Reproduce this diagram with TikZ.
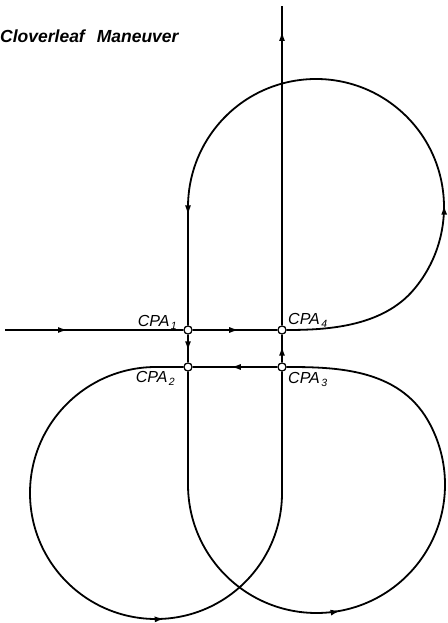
\documentclass[tikz,border=0pt]{standalone}
\usepackage{fontspec}
\setmainfont{Liberation Sans}
\usetikzlibrary{arrows.meta,decorations.markings}
\newcommand\cpasub[1]{\hspace{1.5pt}\raisebox{-2.5pt}{\fontsize{10.5}{10.5}\selectfont #1}}
\tikzset{
  route/.style={line width=1.8pt},
  cpa/.style={circle, draw, fill=white, line width=1.1pt, minimum size=8pt, inner sep=0pt},
  lab/.style={font=\fontsize{16}{16}\selectfont\itshape, inner sep=0pt},
  mk/.style={decoration={markings, mark=at position #1 with {\arrow{Latex[length=10pt,width=6pt]}}}, postaction=decorate},
  mktwo/.style 2 args={decoration={markings,
      mark=at position #1 with {\arrow{Latex[length=10pt,width=6pt]}},
      mark=at position #2 with {\arrow{Latex[length=10pt,width=6pt]}}}, postaction=decorate}
}
\begin{document}
\begin{tikzpicture}[x=1pt,y=1pt]
\useasboundingbox (0,0) rectangle (447,623);
% nodes
\node[cpa] (C1) at (188,293) {};
\node[cpa] (C4) at (282,293) {};
\node[cpa] (C2) at (188,256) {};
\node[cpa] (C3) at (282,256) {};
\coordinate (in) at (5,293);
\coordinate (out) at (282,617);
% connectors
\draw[route, mk=63pt] (in) -- (C1);
\draw[route, mk=0.55] (C1) -- (C4);
\draw[route, mktwo={230pt}{-110pt}] (C4.east) .. controls (325,293) and (381.9,295.4) .. (414.05,333.72)
   arc[start angle=-40, end angle=180, radius=128] -- (C1.north);
\draw[route, mk=0.6] (C1) -- (C2);
\draw[route, mk=0.55] (C3) -- (C2);
\draw[route, mk=0.6] (C3) -- (C4);
\draw[route, mk=-25pt] (C4) -- (out);
\draw[route, mk=432pt] (C2.west) -- (156,256) arc[start angle=90, end angle=360, radius=126] -- (C3.south);
\draw[route, mk=339pt] (C2.south) -- (188,138.5) arc[start angle=180, end angle=390, radius=128.5]
   .. controls (397.8,254.7) and (335,256) .. (C3.east);
% redraw nodes on top
\node[cpa] at (C1) {};
\node[cpa] at (C2) {};
\node[cpa] at (C3) {};
\node[cpa] at (C4) {};
% labels
\node[lab, anchor=base east] (L1) at ([xshift=-11pt, yshift=3pt]C1.center) {CPA\cpasub{1}};
\node[lab, anchor=base east] (L2) at ([xshift=-13pt, yshift=-16pt]C2.center) {CPA\cpasub{2}};
\node[lab, anchor=base west] (L4) at ([xshift=6pt, yshift=5pt]C4.center) {CPA\cpasub{4}};
\node[lab, anchor=base west] (L3) at ([xshift=6pt, yshift=-17pt]C3.center) {CPA\cpasub{3}};
\node[anchor=west, font=\fontsize{17.5}{17.5}\selectfont\bfseries\itshape, inner sep=0pt] (title) at (0,587) {Cloverleaf\hspace{12pt}Maneuver};
\end{tikzpicture}
\end{document}
